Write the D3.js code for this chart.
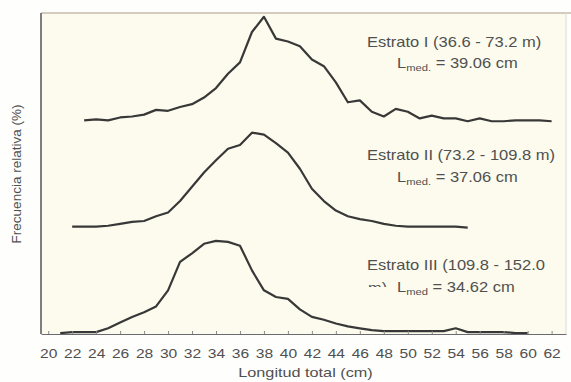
<!DOCTYPE html>
<html>
<head>
<meta charset="utf-8">
<script src="https://cdn.jsdelivr.net/npm/d3@7"></script>
<style>
  body { margin: 0; background: #fefefc; }
  text { font-family: Arial, "Liberation Sans", sans-serif; fill: #505050; }
</style>
</head>
<body>
<svg id="chart" width="571" height="382"></svg>
<script>
// frecuencia relativa (%) por clase de longitud (cm)
var lengthsI = [23,24,25,26,27,28,29,30,31,32,33,34,35,36,37,38,39,40,41,42,43,44,45,46,47,48,49,50,51,52,53,54,55,56,57,58,59,60,61,62]
var freqI    = [0.2,0.3,0.2,0.5,0.6,0.8,1.3,1.2,1.6,1.9,2.6,3.6,5.1,6.3,9.5,11.1,8.8,8.5,8.0,6.6,5.9,4.2,2.1,2.3,1.1,0.6,1.4,1.1,0.4,0.7,0.4,0.4,0.1,0.4,0.1,0.1,0.2,0.2,0.2,0.1]

var lengthsII = [22,23,24,25,26,27,28,29,30,31,32,33,34,35,36,37,38,39,40,41,42,43,44,45,46,47,48,49,50,51,52,53,54,55]
var freqII    = [0.1,0.1,0.1,0.2,0.4,0.6,0.7,1.2,1.6,2.8,4.3,5.8,7.1,8.3,8.7,10.0,9.8,8.9,7.9,6.2,4.1,2.8,1.8,1.2,0.9,0.7,0.4,0.2,0.1,0.1,0.1,0.1,0.1,0.0]

var lengthsIII = [21,22,23,24,25,26,27,28,29,30,31,32,33,34,35,36,37,38,39,40,41,42,43,44,45,46,47,48,49,50,51,52,53,54,55,56,57,58,59,60]
var freqIII    = [0.1,0.2,0.2,0.2,0.6,1.2,1.8,2.3,2.9,4.6,7.6,8.5,9.5,9.8,9.7,9.3,6.7,4.6,3.9,3.7,2.6,1.8,1.5,1.1,0.8,0.6,0.4,0.3,0.3,0.3,0.3,0.3,0.3,0.6,0.2,0.2,0.2,0.2,0.1,0.1]

// desplazamiento vertical de cada estrato (curvas apiladas)
var offsets = [22.3, 11.2, 0]
var xTicks = [20,22,24,26,28,30,32,34,36,38,40,42,44,46,48,50,52,54,56,58,60,62]

var strata = [
  {name:"Estrato I (36.6 - 73.2 m)",    med:"med.", lmed:"39.06", x:lengthsI,   y:freqI},
  {name:"Estrato II (73.2 - 109.8 m)",  med:"med.", lmed:"37.06", x:lengthsII,  y:freqII},
  {name:"Estrato III (109.8 - 152.0",   med:"med",  lmed:"34.62", x:lengthsIII, y:freqIII}
]

var margin = {top:13, right:5, bottom:48, left:41}
var width = 571 - margin.left - margin.right
var height = 382 - margin.top - margin.bottom
var sx = 1.18 // el texto del original esta ensanchado

var svg = d3.select('#chart')
var g = svg.append('g').attr('transform','translate('+margin.left+','+margin.top+')')

var x = d3.scaleLinear().domain([19.4, 63.2]).range([0, width])
var y = d3.scaleLinear().domain([0, 33.8]).range([height, 0])

g.append('rect')
  .attr('width', width).attr('height', height)
  .attr('fill', '#fcfbed')

// borde superior y derecho
g.append('line').attr('x1',0).attr('x2',width+5).attr('y1',0).attr('y2',0)
  .attr('stroke','#a89a88').attr('stroke-width',1)
g.append('line').attr('x1',width).attr('x2',width).attr('y1',0).attr('y2',height)
  .attr('stroke','#dddad0').attr('stroke-width',1)

var line = d3.line()

strata.forEach(function(s, i){
  var pts = s.x.map(function(v, j){ return [x(v), y(s.y[j] + offsets[i])] })
  g.append('path')
    .attr('d', line(pts))
    .attr('fill','none')
    .attr('stroke','#383838')
    .attr('stroke-width',2.2)
    .attr('stroke-linejoin','round')
})

// eje x
var xAxis = g.append('g')
  .attr('transform','translate(0,'+height+')')
  .call(d3.axisBottom(x).tickValues(xTicks).tickSizeInner(-3).tickSizeOuter(0).tickPadding(15.5))
xAxis.select('.domain').attr('stroke','#6a6a70').attr('stroke-width',1.2)
xAxis.selectAll('.tick line').attr('stroke','#8a8a8a')
xAxis.selectAll('.tick text')
  .attr('font-size',12)
  .attr('font-family','Arial, "Liberation Sans", sans-serif')
  .attr('fill','#505050')
  .attr('transform','scale(1.3,1)')

// eje y (sin marcas)
g.append('line').attr('x1',0).attr('x2',0).attr('y1',0).attr('y2',height)
  .attr('stroke','#555').attr('stroke-width',1.5)

// titulos de ejes
g.append('text')
  .attr('transform','translate('+(width/2+2)+','+(height+43)+') scale(1.25,1)')
  .attr('text-anchor','middle')
  .attr('font-size',13)
  .text('Longitud total (cm)')

svg.append('text')
  .attr('transform','translate(21,174) rotate(-90)')
  .attr('text-anchor','middle')
  .attr('font-size',13.5)
  .text('Frecuencia relativa (%)')

// anotaciones
var notePos = [
  {tx:367, ty:47,  lx:397, ly:68},
  {tx:367, ty:160, lx:397, ly:182},
  {tx:367, ty:270, lx:397, ly:292}
]

strata.forEach(function(s, i){
  var p = notePos[i]
  svg.append('text')
    .attr('transform','translate('+p.tx+','+p.ty+') scale('+sx+',1)')
    .attr('font-size',14)
    .text(s.name)
  var t = svg.append('text')
    .attr('transform','translate('+p.lx+','+p.ly+') scale('+sx+',1)')
    .attr('font-size',14)
  t.append('tspan').text('L')
  t.append('tspan').attr('font-size',9.5).attr('dy',3).text(s.med)
  t.append('tspan').attr('dy',-3).text(' = '+s.lmed+' cm')
})

// "m)" cortado del tercer estrato
svg.append('clipPath').attr('id','cut')
  .append('rect').attr('x',360).attr('y',278).attr('width',30).attr('height',9)
svg.append('g').attr('clip-path','url(#cut)')
  .append('text')
  .attr('transform','translate(368,293) scale('+sx+',1)')
  .attr('font-size',14)
  .text('m)')
</script>
</body>
</html>
